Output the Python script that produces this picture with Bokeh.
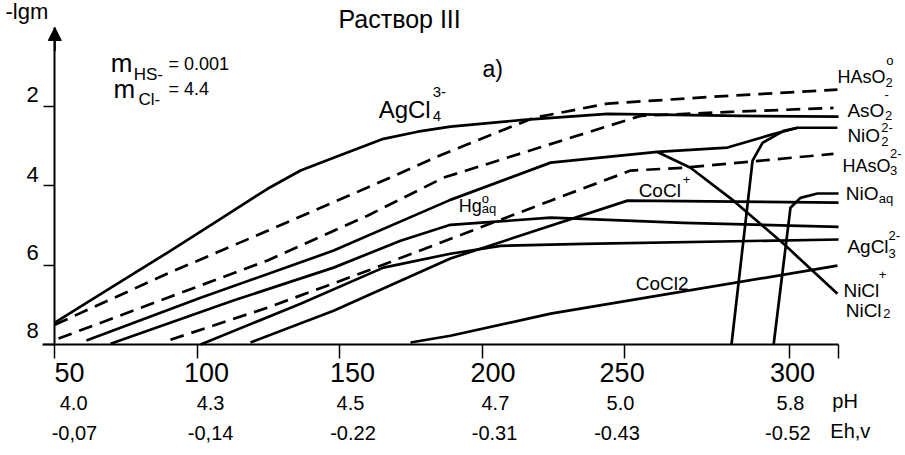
from bokeh.plotting import figure
from bokeh.models import Range1d, LinearAxis, FixedTicker, Label, Arrow, NormalHead
from bokeh.embed import file_html
from bokeh.resources import INLINE

# ---------------- data ----------------
# x: temperature position on the drawn scale (the 250-300 division is drawn wider,
#    so the "300" tick sits at 308 on the linear scale); y: -lg m
temp_ticks = [50, 100, 150, 200, 250, 308]
temp_labels = ["50", "100", "150", "200", "250", "300"]
ph_labels = ["4.0", "4.3", "4.5", "4.7", "5.0", "5.8"]
eh_labels = ["-0,07", "-0,14", "-0.22", "-0.31", "-0.43", "-0.52"]
lgm_ticks = [2, 4, 6, 8]
lgm_labels = ["2", "4", "6", "8"]

agcl4_t = [50.0, 69.6, 89.6, 107.1, 124.7, 136.3, 147.9, 165.4, 177.4, 188.9, 214.6, 244.1, 290.8, 325.2]
agcl4_v = [7.45, 6.57, 5.68, 4.88, 4.07, 3.61, 3.29, 2.81, 2.63, 2.50, 2.33, 2.18, 2.23, 2.25]

haso2_t = [50.0, 89.6, 124.7, 159.8, 186.5, 218.1, 244.1, 287.3, 324.8]
haso2_v = [7.50, 6.21, 5.13, 4.04, 3.19, 2.28, 1.92, 1.72, 1.57]

aso2_t = [51.3, 89.6, 124.7, 159.8, 186.5, 255.7, 287.3, 323.4]
aso2_v = [7.85, 6.82, 5.88, 4.75, 3.79, 2.23, 2.13, 2.03]

nicl_t = [61.1, 101.2, 147.9, 188.9, 224.1, 261.6, 286.2, 301.3, 310.8, 324.8]
nicl_v = [7.90, 6.82, 5.63, 4.35, 3.41, 3.14, 3.03, 2.71, 2.53, 2.53]

hg_t = [69.6, 112.7, 147.9, 171.4, 188.9, 224.1, 270.8, 325.2]
hg_v = [7.98, 6.89, 6.06, 5.38, 4.98, 4.80, 4.93, 5.03]

haso3_t = [90.6, 124.7, 159.8, 185.4, 224.1, 252.2, 270.8, 323.4]
haso3_v = [7.88, 7.07, 6.14, 5.43, 4.37, 3.61, 3.54, 3.19]

agcl3_t = [101.2, 136.3, 165.4, 188.9, 206.5, 235.6, 325.2]
agcl3_v = [8.00, 6.97, 6.06, 5.71, 5.51, 5.46, 5.35]

cocl_t = [118.7, 147.9, 188.9, 251.1, 325.2]
cocl_v = [7.95, 7.15, 5.83, 4.37, 4.42]

cocl2_t = [174.9, 188.9, 224.1, 324.8]
cocl2_v = [7.95, 7.78, 7.22, 6.01]

nicl_drop_t = [261.6, 273.2, 288.3, 305.9, 324.8]
nicl_drop_v = [3.14, 3.54, 4.37, 5.46, 6.72]

nio2_t = [287.6, 295.0, 298.5, 305.9, 310.8]
nio2_v = [8.00, 3.36, 2.91, 2.61, 2.53]

nioaq_t = [302.4, 308.3, 311.8, 317.8, 325.2]
nioaq_v = [8.00, 4.55, 4.30, 4.19, 4.19]

# ---------------- layout / style ----------------
FONT = "Liberation Sans"
PX_PER_UNIT = 39.625          # vertical pixels per unit of -lg m
temp_label_pos = [55.2, 103.3, 154.5, 203.9, 249.2, 309.0]
ph_label_pos = [56.6, 104.7, 153.8, 204.7, 248.6, 308.3]
eh_label_pos = [56.9, 104.7, 154.7, 204.4, 247.4, 307.4]
lgm_label_pos = [1.69, 3.72, 5.68, 7.65]
PH_ROW = 9.312
EH_ROW = 10.044

p = figure(width=905, height=455, output_backend="svg", toolbar_location=None,
           x_range=Range1d(30.93, 348.70), y_range=Range1d(10.801, -0.681),
           x_axis_type=None, y_axis_type=None,
           min_border_left=0, min_border_right=0, min_border_top=0, min_border_bottom=0)
p.grid.visible = False
p.outline_line_color = None
p.background_fill_color = "white"
p.border_fill_color = "white"

# x axis: line and ticks
xt = LinearAxis(ticker=FixedTicker(ticks=temp_ticks + [325.1]), fixed_location=8.0,
                bounds=(45.8, 325.2),
                major_label_overrides={t: "" for t in temp_ticks + [325.1]},
                axis_line_width=2, axis_line_color="black",
                major_tick_out=14, major_tick_in=0, major_tick_line_width=1.5,
                minor_tick_line_color=None, major_label_text_font_size="1px")
p.add_layout(xt, "below")

def label_axis(pos, labels, size, standoff, loc):
    return LinearAxis(ticker=FixedTicker(ticks=pos), fixed_location=loc,
                      major_label_overrides={q: s for q, s in zip(pos, labels)},
                      axis_line_color=None, major_tick_line_color=None, minor_tick_line_color=None,
                      major_tick_out=0, major_tick_in=0,
                      major_label_text_font=FONT, major_label_text_font_size=size,
                      major_label_text_color="black", major_label_standoff=standoff)

p.add_layout(label_axis(temp_label_pos, temp_labels, "27px", 18, 8.0), "below")
p.add_layout(label_axis(ph_label_pos, ph_labels, "20px", 0, PH_ROW), "below")
p.add_layout(label_axis(eh_label_pos, eh_labels, "20px", 0, EH_ROW), "below")

# y axis
yt = LinearAxis(ticker=FixedTicker(ticks=lgm_ticks), fixed_location=50, bounds=(0, 8),
                major_label_overrides={t: "" for t in lgm_ticks},
                axis_line_width=2, axis_line_color="black",
                major_tick_out=11, major_tick_in=0, major_tick_line_width=1.5,
                minor_tick_line_color=None, major_label_text_font_size="1px")
p.add_layout(yt, "left")
p.add_layout(label_axis(lgm_label_pos, lgm_labels, "22px", 16, 50), "left")

p.add_layout(Arrow(end=NormalHead(size=13, fill_color="black", line_color="black"),
                   x_start=50, y_start=0.6, x_end=50, y_end=0.0,
                   line_width=2, line_color="black"))

# curves
solid = dict(line_color="black", line_width=2.7, line_join="round")
dashed = dict(line_color="black", line_width=2.7, line_dash="14 8")
p.line(agcl4_t, agcl4_v, **solid)
p.line(haso2_t, haso2_v, **dashed)
p.line(aso2_t, aso2_v, **dashed)
p.line(nicl_t, nicl_v, **solid)
p.line(hg_t, hg_v, **solid)
p.line(haso3_t, haso3_v, **dashed)
p.line(agcl3_t, agcl3_v, **solid)
p.line(cocl_t, cocl_v, **solid)
p.line(cocl2_t, cocl2_v, **solid)
p.line(nicl_drop_t, nicl_drop_v, **solid)
p.line(nio2_t, nio2_v, **solid)
p.line(nioaq_t, nioaq_v, **solid)

# texts: (text, x, baseline y, size)
texts = [
    ("-lgm", 32.7, -0.20, 22),
    ("Раствор III", 149.6, 0.025, 25),
    ("m", 69.6, 1.136, 26), ("HS-", 77.7, 1.338, 17), ("= 0.001", 89.9, 1.085, 18),
    ("m", 70.6, 1.792, 26), ("Cl-", 79.4, 1.968, 17), ("= 4.4", 89.9, 1.716, 18),
    ("a)", 200.2, 1.262, 23),
    ("AgCl", 163.7, 2.297, 24), ("3-", 182.7, 1.767, 15), ("4", 182.7, 2.372, 15),
    ("HAsO", 324.8, 1.413, 18), ("2", 341.7, 1.514, 13), ("o", 341.9, 0.959, 13),
    ("AsO", 328.3, 2.271, 19), ("2", 341.5, 2.347, 13), ("-", 341.3, 1.800, 13),
    ("NiO", 328.3, 2.902, 19), ("2-", 340.2, 2.650, 13), ("2", 340.2, 3.003, 13),
    ("HAsO", 326.6, 3.659, 18), ("2-", 343.3, 3.306, 13), ("3", 343.3, 3.735, 13),
    ("NiO", 327.7, 4.366, 19), ("aq", 339.3, 4.442, 13),
    ("AgCl", 328.3, 5.703, 19), ("2-", 342.7, 5.375, 13), ("3", 342.7, 5.830, 13),
    ("NiCl", 326.9, 6.814, 19), ("+", 339.3, 6.360, 13),
    ("NiCl", 327.7, 7.319, 19), ("2", 340.9, 7.344, 13),
    ("CoCl", 255.0, 4.290, 19), ("+", 270.5, 3.950, 13),
    ("Hg", 191.8, 4.669, 18), ("o", 199.9, 4.442, 13), ("aq", 199.9, 4.694, 13),
    ("CoCl2", 254.0, 6.637, 19),
    ("pH", 323.0, 9.615, 20),
    ("Eh,v", 322.3, 10.372, 20),
]
for s, x, y, fs in texts:
    # the label anchor sits slightly above the drawn baseline; lift it to the target baseline
    y_anchor = y - 0.36 * fs / PX_PER_UNIT
    p.add_layout(Label(x=x, y=y_anchor, text=s, text_font=FONT, text_font_size=f"{fs}px",
                       text_color="black", text_baseline="alphabetic", text_align="left"))

open("out.html", "w").write(file_html(p, INLINE))
